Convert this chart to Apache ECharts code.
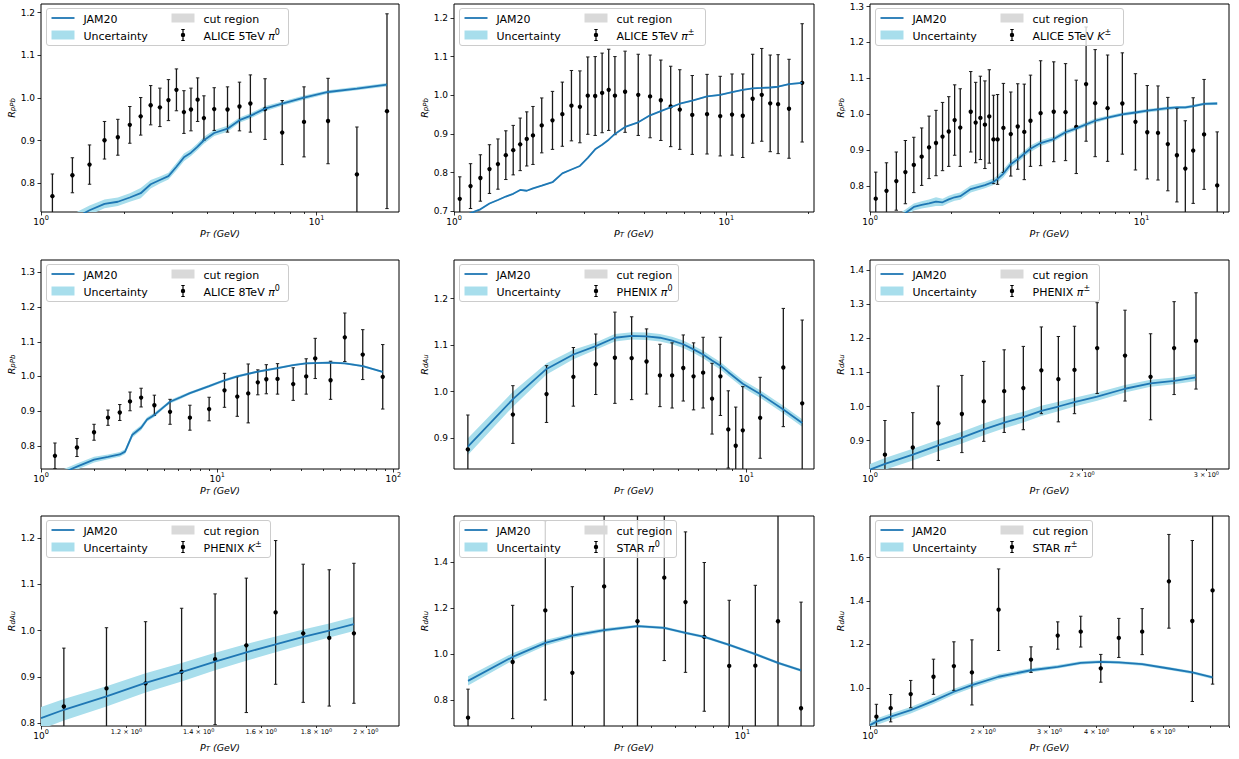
<!DOCTYPE html>
<html>
<head>
<meta charset="utf-8">
<script src="https://cdn.jsdelivr.net/npm/echarts@6/dist/echarts.min.js"></script>
<style>html,body{margin:0;padding:0;background:#fff}#chart{width:1239px;height:759px}</style>
</head>
<body>
<div id="chart"></div>
<script>
// ===================== DATA =====================
// Panel 1: ALICE 5TeV pi0 (pPb)
const p1X = [1.1,1.3,1.5,1.7,1.9,2.1,2.3,2.5,2.7,2.9,3.1,3.3,3.5,3.7,3.9,4.25,4.75,5.25,5.75,6.5,7.5,9,11,14,18];
const p1Y = [0.770,0.819,0.844,0.901,0.908,0.937,0.957,0.983,0.978,0.995,1.019,0.967,0.973,0.996,0.953,0.974,0.973,0.980,0.987,0.974,0.919,0.944,0.946,0.821,0.969];
const p1Err = [0.052,0.041,0.046,0.044,0.042,0.043,0.044,0.046,0.045,0.048,0.049,0.05,0.05,0.051,0.052,0.05,0.053,0.057,0.067,0.071,0.075,0.082,0.1,0.111,0.228];
const p1TX = [1.1,1.3,1.5,1.7,1.9,2.1,2.3,2.5,2.7,2.9,3.1,3.3,3.5,3.7,3.9,4.25,4.75,5.25,5.75,6.5,7.5,9,11,14,18];
const p1TY = [0.695,0.716,0.737,0.752,0.757,0.767,0.777,0.798,0.808,0.817,0.839,0.861,0.872,0.886,0.901,0.918,0.928,0.948,0.958,0.975,0.987,1.001,1.014,1.022,1.031];
const p1TBand = [0.012,0.012,0.011,0.01,0.01,0.01,0.012,0.01,0.008,0.008,0.009,0.009,0.008,0.008,0.008,0.007,0.007,0.006,0.006,0.006,0.005,0.005,0.004,0.004,0.004];
const p1XLim = [1, 19.9];
const p1YLim = [0.733, 1.220];

// Panel 2: ALICE 5TeV pi+- (pPb)
const p2X = [1.05,1.15,1.25,1.35,1.45,1.55,1.65,1.75,1.85,1.95,2.1,2.3,2.5,2.7,2.9,3.1,3.3,3.5,3.7,3.9,4.25,4.75,5.25,5.75,6.25,6.75,7.5,8.5,9.5,10.5,11.5,12.5,13.5,14.5,15.5,17,19];
const p2Y = [0.732,0.765,0.786,0.809,0.822,0.845,0.858,0.873,0.887,0.896,0.922,0.935,0.951,0.973,0.970,0.999,0.998,1.006,1.014,0.999,1.009,1.001,0.997,0.987,0.971,0.963,0.949,0.951,0.946,0.950,0.947,0.991,1.001,0.979,0.977,0.965,1.032];
const p2Err = [0.057,0.058,0.06,0.063,0.065,0.063,0.064,0.068,0.07,0.075,0.071,0.075,0.083,0.091,0.093,0.1,0.102,0.103,0.105,0.101,0.105,0.105,0.107,0.104,0.104,0.103,0.102,0.103,0.103,0.105,0.108,0.115,0.12,0.125,0.128,0.128,0.153];
const p2TX = [1.05,1.15,1.25,1.35,1.45,1.55,1.65,1.75,1.85,1.95,2.1,2.3,2.5,2.7,2.9,3.1,3.3,3.5,3.7,3.9,4.25,4.75,5.25,5.75,6.75,7.5,8.5,9.5,10.5,11.5,12.5,13.5,14.5,15.5,17,19];
const p2TY = [0.68,0.695,0.705,0.72,0.729,0.738,0.745,0.755,0.753,0.759,0.766,0.775,0.798,0.808,0.817,0.838,0.86,0.872,0.885,0.9,0.918,0.93,0.948,0.959,0.978,0.986,0.997,1.001,1.008,1.014,1.018,1.019,1.02,1.022,1.029,1.032];
const p2TBand = [0.002,0.002,0.002,0.002,0.002,0.002,0.002,0.002,0.002,0.002,0.002,0.002,0.002,0.002,0.002,0.002,0.002,0.002,0.002,0.002,0.002,0.002,0.002,0.002,0.002,0.002,0.002,0.002,0.002,0.002,0.002,0.002,0.002,0.002,0.002,0.002];
const p2XLim = [1, 21];
const p2YLim = [0.698, 1.236];

// Panel 3: ALICE 5TeV K+- (pPb)
const p3X = [1.05,1.15,1.25,1.35,1.45,1.55,1.65,1.75,1.85,1.95,2.05,2.15,2.35,2.45,2.55,2.65,2.75,2.85,2.95,3.1,3.3,3.5,3.7,3.9,4.25,4.75,5.25,5.75,6.25,6.75,7.5,8.5,9.5,10.5,11.5,12.5,13.5,14.5,15.5,17,19];
const p3Y = [0.765,0.787,0.814,0.839,0.859,0.882,0.908,0.92,0.938,0.952,0.984,0.963,1.007,0.977,0.99,0.971,0.994,0.93,0.93,0.962,0.945,0.966,0.951,0.982,1.003,1.007,1.006,0.965,1.084,1.031,1.017,1.03,0.979,0.95,0.948,0.917,0.886,0.849,0.899,0.944,0.802];
const p3Err = [0.074,0.078,0.081,0.088,0.077,0.08,0.087,0.091,0.095,0.097,0.098,0.108,0.112,0.112,0.116,0.122,0.13,0.123,0.125,0.124,0.117,0.119,0.133,0.127,0.146,0.139,0.135,0.13,0.159,0.149,0.148,0.141,0.134,0.13,0.131,0.13,0.13,0.133,0.147,0.153,0.149];
const p3TX = [1.05,1.15,1.25,1.35,1.45,1.55,1.65,1.75,1.85,1.95,2.05,2.15,2.35,2.65,2.85,2.95,3.1,3.3,3.5,3.7,3.9,4.25,4.75,5.25,5.75,6.75,7.5,8.5,9.5,10.5,12.5,13.5,14.5,15.5,17,19];
const p3TY = [0.68,0.695,0.708,0.725,0.742,0.748,0.752,0.757,0.755,0.763,0.769,0.772,0.792,0.803,0.812,0.82,0.835,0.861,0.875,0.89,0.904,0.92,0.931,0.95,0.961,0.982,0.991,1.0,1.005,1.01,1.017,1.019,1.019,1.023,1.029,1.03];
const p3TBand = [0.01,0.01,0.01,0.01,0.01,0.01,0.011,0.012,0.01,0.01,0.01,0.01,0.01,0.009,0.009,0.01,0.011,0.01,0.009,0.009,0.009,0.008,0.007,0.007,0.006,0.006,0.005,0.005,0.005,0.005,0.005,0.004,0.004,0.004,0.004,0.004];
const p3XLim = [1, 21];
const p3YLim = [0.728, 1.307];

// Panel 4: ALICE 8TeV pi0 (pPb)
const p4X = [1.2,1.6,2.0,2.4,2.8,3.2,3.7,4.4,5.4,7,9,11,13,15,17,19,22,27,32,36,44,53,67,87];
const p4Y = [0.771,0.795,0.839,0.881,0.896,0.928,0.939,0.917,0.898,0.881,0.906,0.96,0.942,0.951,0.983,0.992,0.993,0.978,1.0,1.052,0.989,1.113,1.063,0.999];
const p4Err = [0.037,0.026,0.023,0.022,0.023,0.027,0.027,0.029,0.036,0.036,0.034,0.049,0.057,0.085,0.036,0.042,0.044,0.047,0.051,0.058,0.055,0.07,0.072,0.093];
const p4TX = [1.2,1.6,2.0,2.4,2.8,3.0,3.3,3.7,4.0,4.4,5.0,5.4,6.2,7,9,11,13,17,22,27,32,44,53,67,87];
const p4TY = [0.712,0.74,0.76,0.768,0.775,0.783,0.832,0.852,0.876,0.889,0.913,0.927,0.94,0.952,0.972,0.989,1.0,1.014,1.024,1.033,1.038,1.04,1.038,1.03,1.013];
const p4TBand = [0.01,0.009,0.008,0.007,0.007,0.007,0.008,0.007,0.006,0.006,0.005,0.005,0.005,0.004,0.004,0.004,0.004,0.003,0.003,0.003,0.003,0.003,0.003,0.003,0.003];
const p4XLim = [1, 107.6];
const p4YLim = [0.733, 1.336];

// Panel 5: PHENIX pi0 (dAu)
const p5X = [1.25,1.75,2.25,2.75,3.25,3.75,4.25,4.75,5.25,5.75,6.25,6.75,7.25,7.75,8.25,8.75,9.25,9.75,11.1,13.2,15.2];
const p5Y = [0.876,0.951,0.995,1.032,1.059,1.073,1.072,1.065,1.035,1.035,1.051,1.033,1.041,0.985,1.033,0.919,0.884,0.917,0.944,1.052,0.975];
const p5Err = [0.074,0.062,0.061,0.063,0.065,0.098,0.089,0.07,0.067,0.07,0.071,0.072,0.076,0.076,0.084,0.083,0.083,0.094,0.087,0.127,0.179];
const p5TX = [1.25,1.75,2.25,2.75,3.25,3.75,4.25,4.75,5.25,5.75,6.25,6.75,7.25,7.75,8.25,8.75,9.75,11.1,13.2,15.2];
const p5TY = [0.882,0.984,1.049,1.08,1.098,1.116,1.12,1.119,1.116,1.11,1.102,1.091,1.08,1.067,1.056,1.042,1.017,0.995,0.962,0.933];
const p5TBand = [0.018,0.016,0.012,0.01,0.008,0.008,0.008,0.008,0.008,0.008,0.008,0.008,0.008,0.008,0.008,0.008,0.008,0.008,0.008,0.008];
const p5XLim = [1.127, 16.6];
const p5YLim = [0.834, 1.283];

// Panel 6: PHENIX pi+- (dAu)
const p6X = [1.05,1.15,1.25,1.35,1.45,1.55,1.65,1.75,1.85,1.95,2.1,2.3,2.5,2.7,2.9];
const p6Y = [0.859,0.88,0.951,0.978,1.015,1.045,1.054,1.106,1.08,1.107,1.171,1.149,1.087,1.171,1.192];
const p6Err = [0.1,0.102,0.109,0.113,0.117,0.121,0.122,0.127,0.125,0.128,0.133,0.133,0.126,0.136,0.141];
const p6TX = [1.0,1.05,1.15,1.25,1.35,1.45,1.55,1.65,1.75,1.85,1.95,2.1,2.3,2.5,2.7,2.9];
const p6TY = [0.815,0.832,0.859,0.886,0.909,0.933,0.953,0.969,0.987,1.0,1.013,1.029,1.052,1.068,1.075,1.085];
const p6TBand = [0.017,0.017,0.017,0.017,0.017,0.017,0.017,0.016,0.015,0.014,0.013,0.012,0.011,0.01,0.01,0.01];
const p6XLim = [1, 3.23];
const p6YLim = [0.817, 1.429];

// Panel 7: PHENIX K+- (dAu)
const p7X = [1.05,1.15,1.25,1.35,1.45,1.55,1.65,1.75,1.85,1.95];
const p7Y = [0.836,0.875,0.886,0.911,0.938,0.968,1.039,0.994,0.984,0.994];
const p7Err = [0.126,0.131,0.133,0.137,0.141,0.145,0.155,0.149,0.147,0.151];
const p7TX = [1.0,1.05,1.15,1.25,1.35,1.45,1.55,1.65,1.75,1.85,1.95];
const p7TY = [0.811,0.829,0.858,0.887,0.91,0.933,0.953,0.97,0.986,1.0,1.014];
const p7TBand = [0.024,0.023,0.022,0.021,0.02,0.019,0.018,0.017,0.016,0.015,0.015];
const p7XLim = [1, 2.147];
const p7YLim = [0.794, 1.247];

// Panel 8: STAR pi0 (dAu)
const p8X = [1.23,1.73,2.22,2.73,3.48,4.49,5.51,6.48,7.48,9.05,11.05,13.14,15.67];
const p8Y = [0.723,0.965,1.189,0.918,1.293,1.142,1.331,1.225,1.074,0.948,0.949,1.142,0.764];
const p8Err = [0.124,0.246,0.389,0.374,0.65,0.6,0.36,0.305,0.323,0.285,0.349,0.55,0.461];
const p8TX = [1.23,1.73,2.22,2.73,3.48,4.49,5.51,6.48,7.48,9.05,11.05,13.14,15.67];
const p8TY = [0.883,0.987,1.048,1.079,1.103,1.121,1.113,1.091,1.074,1.039,0.999,0.961,0.929];
const p8TBand = [0.02,0.016,0.012,0.01,0.008,0.006,0.006,0.006,0.006,0.006,0.006,0.006,0.006];
const p8XLim = [1.105, 17.3];
const p8YLim = [0.687, 1.599];

// Panel 9: STAR pi+- (dAu)
const p9X = [1.04,1.135,1.283,1.475,1.671,1.866,2.197,2.679,3.155,3.632,4.106,4.585,5.29,6.23,7.19,8.14];
const p9Y = [0.867,0.906,0.971,1.051,1.1,1.071,1.36,1.13,1.241,1.259,1.09,1.23,1.259,1.491,1.308,1.449];
const p9Err = [0.057,0.063,0.063,0.081,0.112,0.15,0.188,0.059,0.063,0.071,0.064,0.09,0.106,0.216,0.371,0.432];
const p9TX = [1.0,1.04,1.135,1.283,1.475,1.671,1.866,2.197,2.679,3.155,3.632,4.106,4.585,5.29,6.23,7.19,8.14];
const p9TY = [0.828,0.844,0.867,0.897,0.94,0.982,1.012,1.051,1.081,1.097,1.115,1.12,1.117,1.109,1.089,1.071,1.048];
const p9TBand = [0.015,0.015,0.015,0.015,0.015,0.014,0.013,0.011,0.009,0.008,0.007,0.007,0.007,0.007,0.007,0.007,0.007];
const p9XLim = [1, 9.0];
const p9YLim = [0.824, 1.792];

// Tick values
const p1XMajor = [1,10];       const p1XMinor = [2,3,4,5,6,7,8,9];            const p1XMinorLabels = [];
const p2XMajor = [1,10];       const p2XMinor = [2,3,4,5,6,7,8,9,20];         const p2XMinorLabels = [];
const p3XMajor = [1,10];       const p3XMinor = [2,3,4,5,6,7,8,9,20];         const p3XMinorLabels = [];
const p4XMajor = [1,10,100];   const p4XMinor = [2,3,4,5,6,7,8,9,20,30,40,50,60,70,80,90]; const p4XMinorLabels = [];
const p5XMajor = [10];         const p5XMinor = [2,3,4,5,6,7,8,9];            const p5XMinorLabels = [];
const p6XMajor = [1];          const p6XMinor = [2,3];                        const p6XMinorLabels = [2,3];
const p7XMajor = [1];          const p7XMinor = [1.2,1.4,1.6,1.8,2];          const p7XMinorLabels = [1.2,1.4,1.6,1.8,2];
const p8XMajor = [10];         const p8XMinor = [2,3,4,5,6,7,8,9];            const p8XMinorLabels = [];
const p9XMajor = [1];          const p9XMinor = [2,3,4,5,6,7,8,9];            const p9XMinorLabels = [2,3,4,6];
const p1YTicks = [0.8,0.9,1.0,1.1,1.2];
const p2YTicks = [0.7,0.8,0.9,1.0,1.1,1.2];
const p3YTicks = [0.8,0.9,1.0,1.1,1.2,1.3];
const p4YTicks = [0.8,0.9,1.0,1.1,1.2,1.3];
const p5YTicks = [0.9,1.0,1.1,1.2];
const p6YTicks = [0.9,1.0,1.1,1.2,1.3,1.4];
const p7YTicks = [0.8,0.9,1.0,1.1,1.2];
const p8YTicks = [0.8,1.0,1.2,1.4];
const p9YTicks = [1.0,1.2,1.4,1.6];

// Labels
const dataLabels = [
  ['ALICE 5TeV ', 'π', '0'], ['ALICE 5TeV ', 'π', '±'], ['ALICE 5TeV ', 'K', '±'],
  ['ALICE 8TeV ', 'π', '0'], ['PHENIX ', 'π', '0'], ['PHENIX ', 'π', '±'],
  ['PHENIX ', 'K', '±'], ['STAR ', 'π', '0'], ['STAR ', 'π', '±']
];
const yLabelSubs = ['pPb','pPb','pPb','pPb','dAu','dAu','dAu','dAu','dAu'];
const theoryName = 'JAM20';
const bandName = 'Uncertainty';
const cutName = 'cut region';

// ===================== LAYOUT / STYLE =====================
const COL_L = [41, 454, 870], COL_W = [358, 360, 359];
const ROW_T = [4, 260, 516], ROW_H = [208, 209, 210];
const FRAME_W = [242, 246, 248, 242, 219, 224, 224, 217, 217];
const Y_NAME_GAP = [24, 24, 25, 25, 24, 25, 20, 24, 25];
const LINE_C = '#1f77b4', BAND_C = '#a8deec', CUT_C = '#d9d9d9', ERR_C = '#1a1a1a';
const FONT = 'DejaVu Sans';
const CAP = 1.7, DOT_R = 2.2;
const LINE_ICON = 'path://M0,0H23V1.8H0Z';
const PATCH_ICON = 'path://M0,0H23V9H0Z';
const EB_ICON = 'path://M2.9,0H4.1V12H2.9Z M1.8,0H5.2V1H1.8Z M1.8,11H5.2V12H1.8Z M3.5,3.8A2.2,2.2,0,1,1,3.5,8.2A2.2,2.2,0,1,1,3.5,3.8Z';

const panels = [
  {x:p1X,y:p1Y,e:p1Err,tx:p1TX,ty:p1TY,tb:p1TBand,xl:p1XLim,yl:p1YLim,xM:p1XMajor,xm:p1XMinor,xmL:p1XMinorLabels,yt:p1YTicks},
  {x:p2X,y:p2Y,e:p2Err,tx:p2TX,ty:p2TY,tb:p2TBand,xl:p2XLim,yl:p2YLim,xM:p2XMajor,xm:p2XMinor,xmL:p2XMinorLabels,yt:p2YTicks},
  {x:p3X,y:p3Y,e:p3Err,tx:p3TX,ty:p3TY,tb:p3TBand,xl:p3XLim,yl:p3YLim,xM:p3XMajor,xm:p3XMinor,xmL:p3XMinorLabels,yt:p3YTicks},
  {x:p4X,y:p4Y,e:p4Err,tx:p4TX,ty:p4TY,tb:p4TBand,xl:p4XLim,yl:p4YLim,xM:p4XMajor,xm:p4XMinor,xmL:p4XMinorLabels,yt:p4YTicks},
  {x:p5X,y:p5Y,e:p5Err,tx:p5TX,ty:p5TY,tb:p5TBand,xl:p5XLim,yl:p5YLim,xM:p5XMajor,xm:p5XMinor,xmL:p5XMinorLabels,yt:p5YTicks},
  {x:p6X,y:p6Y,e:p6Err,tx:p6TX,ty:p6TY,tb:p6TBand,xl:p6XLim,yl:p6YLim,xM:p6XMajor,xm:p6XMinor,xmL:p6XMinorLabels,yt:p6YTicks},
  {x:p7X,y:p7Y,e:p7Err,tx:p7TX,ty:p7TY,tb:p7TBand,xl:p7XLim,yl:p7YLim,xM:p7XMajor,xm:p7XMinor,xmL:p7XMinorLabels,yt:p7YTicks},
  {x:p8X,y:p8Y,e:p8Err,tx:p8TX,ty:p8TY,tb:p8TBand,xl:p8XLim,yl:p8YLim,xM:p8XMajor,xm:p8XMinor,xmL:p8XMinorLabels,yt:p8YTicks},
  {x:p9X,y:p9Y,e:p9Err,tx:p9TX,ty:p9TY,tb:p9TBand,xl:p9XLim,yl:p9YLim,xM:p9XMajor,xm:p9XMinor,xmL:p9XMinorLabels,yt:p9YTicks}
];

const lg = v => Math.log10(v);
const TICK_RICH = {
  b:  {fontSize: 9, lineHeight: 10, verticalAlign: 'bottom', color: '#000', fontFamily: FONT},
  bs: {fontSize: 6.5, lineHeight: 6.5, padding: [0,0,4.5,0], verticalAlign: 'bottom', color: '#000', fontFamily: FONT},
  m:  {fontSize: 6.5, lineHeight: 7, verticalAlign: 'bottom', color: '#000', fontFamily: FONT},
  ms: {fontSize: 5, lineHeight: 5, padding: [0,0,3.5,0], verticalAlign: 'bottom', color: '#000', fontFamily: FONT}
};
function fmtLogTick(value) {
  const e = Math.floor(value + 1e-9);
  const m = Math.round(Math.pow(10, value - e) * 100) / 100;
  if (Math.abs(m - 1) < 1e-6) return '{b|10}{bs|' + e + '}';
  return '{m|' + m + ' × 10}{ms|' + e + '}';
}
const NAME_RICH = {
  i:  {fontSize: 9.5, lineHeight: 10, fontStyle: 'italic', verticalAlign: 'top', color: '#000', fontFamily: FONT},
  is: {fontSize: 7, lineHeight: 7, fontStyle: 'italic', padding: [3.5,0,0,0], verticalAlign: 'top', color: '#000', fontFamily: FONT}
};
const LEG_RICH = {
  t:  {fontSize: 11, lineHeight: 14, verticalAlign: 'bottom', color: '#000', fontFamily: FONT},
  gi: {fontSize: 11, lineHeight: 14, fontStyle: 'italic', verticalAlign: 'bottom', color: '#000', fontFamily: FONT},
  gs: {fontSize: 8, lineHeight: 8, padding: [0,0,6,0], verticalAlign: 'bottom', color: '#000', fontFamily: FONT}
};
const labelIndex = {};
dataLabels.forEach((d, k) => { labelIndex[d.join('')] = k; });
function legendFmt(name) {
  const k = labelIndex[name];
  if (k === undefined) return '{t|' + name + '}';
  const d = dataLabels[k];
  return '{t|' + d[0] + '}{gi|' + d[1] + '}{gs|' + d[2] + '}';
}
function renderErr(params, api) {
  const x = api.value(0), y = api.value(1), e = api.value(2);
  const c = api.coord([x, y]);
  const t = api.coord([x, y + e]);
  const b = api.coord([x, y - e]);
  const st = {stroke: ERR_C, lineWidth: 1.3};
  return {type: 'group', children: [
    {type: 'line', shape: {x1: c[0], y1: t[1], x2: c[0], y2: b[1]}, style: st},
    {type: 'line', shape: {x1: c[0] - CAP, y1: t[1], x2: c[0] + CAP, y2: t[1]}, style: {stroke: ERR_C, lineWidth: 1}},
    {type: 'line', shape: {x1: c[0] - CAP, y1: b[1], x2: c[0] + CAP, y2: b[1]}, style: {stroke: ERR_C, lineWidth: 1}},
    {type: 'circle', shape: {cx: c[0], cy: c[1], r: DOT_R}, style: {fill: '#000'}}
  ]};
}
// band: one polygon built from all (x, low, high) rows through the axes
function renderBand(params, api) {
  if (params.dataIndexInside !== 0) return null;
  const n = params.dataInsideLength;
  const upper = [], lower = [];
  for (let k = 0; k < n; k++) {
    const x = api.value(0, k);
    upper.push(api.coord([x, api.value(2, k)]));
    lower.push(api.coord([x, api.value(1, k)]));
  }
  return {type: 'polygon', shape: {points: upper.concat(lower.reverse())}, style: {fill: BAND_C, stroke: 'none'}};
}

const grids = [], xAxes = [], yAxes = [], series = [], legends = [], graphics = [];
const tickLine = {color: '#000', width: 0.8};
panels.forEach((P, i) => {
  const col = i % 3, row = Math.floor(i / 3);
  const gl = COL_L[col], gt = ROW_T[row];
  grids.push({left: gl, top: gt, width: COL_W[col], height: ROW_H[row], show: true, borderColor: '#000', borderWidth: 1,
              backgroundColor: '#fff', containLabel: false, outerBoundsMode: 'none'});
  const xLog = xAxes.length;
  xAxes.push({type: 'log', logBase: 10, gridIndex: i, min: P.xl[0], max: P.xl[1], show: false, position: 'bottom'});
  xAxes.push({type: 'value', gridIndex: i, position: 'bottom', min: lg(P.xl[0]), max: lg(P.xl[1]),
    axisLine: {show: false}, splitLine: {show: false},
    axisTick: {show: true, customValues: P.xM.map(lg), length: 3.5, lineStyle: tickLine},
    axisLabel: {show: true, customValues: P.xM.map(lg), margin: 4, formatter: fmtLogTick, rich: TICK_RICH},
    name: '{i|P}{is|T}{i| (GeV)}', nameLocation: 'middle', nameGap: 16,
    nameTextStyle: {rich: NAME_RICH, color: '#000'}});
  xAxes.push({type: 'value', gridIndex: i, position: 'bottom', min: lg(P.xl[0]), max: lg(P.xl[1]),
    axisLine: {show: false}, splitLine: {show: false},
    axisTick: {show: true, customValues: P.xm.map(lg), length: 2, lineStyle: tickLine},
    axisLabel: {show: P.xmL.length > 0, customValues: P.xmL.map(lg), margin: 2.5, formatter: fmtLogTick, rich: TICK_RICH}});
  yAxes.push({type: 'value', gridIndex: i, position: 'left', min: P.yl[0], max: P.yl[1],
    axisLine: {show: false}, splitLine: {show: false},
    axisTick: {show: true, customValues: P.yt, length: 3.5, lineStyle: tickLine},
    axisLabel: {customValues: P.yt, formatter: v => v.toFixed(1), fontSize: 9, color: '#000', fontFamily: FONT, margin: 6},
    name: '{i|R}{is|' + yLabelSubs[i] + '}', nameLocation: 'middle', nameRotate: 90, nameGap: Y_NAME_GAP[i],
    nameTextStyle: {rich: NAME_RICH, color: '#000'}});

  const dataName = dataLabels[i].join('');
  series.push({type: 'custom', name: bandName, xAxisIndex: xLog, yAxisIndex: i, clip: true, silent: true, z: 2,
    encode: {x: 0, y: [1, 2]}, data: P.tx.map((x, k) => [x, P.ty[k] - P.tb[k], P.ty[k] + P.tb[k]]),
    renderItem: renderBand, itemStyle: {color: BAND_C}});
  series.push({type: 'line', name: theoryName, xAxisIndex: xLog, yAxisIndex: i, symbol: 'none', silent: true, z: 2,
    data: P.tx.map((x, k) => [x, P.ty[k]]), lineStyle: {color: LINE_C, width: 1.8}, itemStyle: {color: LINE_C}});
  series.push({type: 'line', name: cutName, xAxisIndex: xLog, yAxisIndex: i, symbol: 'none', data: [],
    itemStyle: {color: CUT_C}, lineStyle: {color: CUT_C}});
  series.push({type: 'custom', name: dataName, xAxisIndex: xLog, yAxisIndex: i, clip: true, silent: true, z: 2,
    encode: {x: 0, y: 1}, data: P.x.map((x, k) => [x, P.y[k], P.e[k]]), renderItem: renderErr, itemStyle: {color: '#000'}});

  const legCommon = {orient: 'vertical', itemGap: 3, itemWidth: 23, itemHeight: 12, padding: 0, selectedMode: false,
    symbolKeepAspect: true, formatter: legendFmt, z: 5,
    textStyle: {fontSize: 11, lineHeight: 14, color: '#000', fontFamily: FONT, padding: [0,0,0,4], rich: LEG_RICH}};
  legends.push(Object.assign({}, legCommon, {left: gl + 10.5, top: gt + 7,
    data: [{name: theoryName, icon: LINE_ICON, itemStyle: {color: LINE_C, borderWidth: 0}},
           {name: bandName, icon: PATCH_ICON, itemStyle: {color: BAND_C, borderWidth: 0}}]}));
  legends.push(Object.assign({}, legCommon, {left: gl + 130.5, top: gt + 7,
    data: [{name: cutName, icon: PATCH_ICON, itemStyle: {color: CUT_C, borderWidth: 0}},
           {name: dataName, icon: EB_ICON, itemStyle: {color: '#000', borderWidth: 0}}]}));
  graphics.push({type: 'rect', silent: true, z: 4,
    shape: {x: gl + 5.5, y: gt + 4.5, width: FRAME_W[i], height: 37, r: 2.5},
    style: {fill: 'rgba(255,255,255,0.8)', stroke: '#cccccc', lineWidth: 1}});
});

const chart = echarts.init(document.getElementById('chart'), null, {renderer: 'svg', width: 1239, height: 759});
chart.setOption({
  animation: false,
  backgroundColor: '#fff',
  textStyle: {fontFamily: FONT, color: '#000'},
  grid: grids, xAxis: xAxes, yAxis: yAxes, series: series, legend: legends,
  graphic: {elements: graphics}
});
</script>
</body>
</html>
